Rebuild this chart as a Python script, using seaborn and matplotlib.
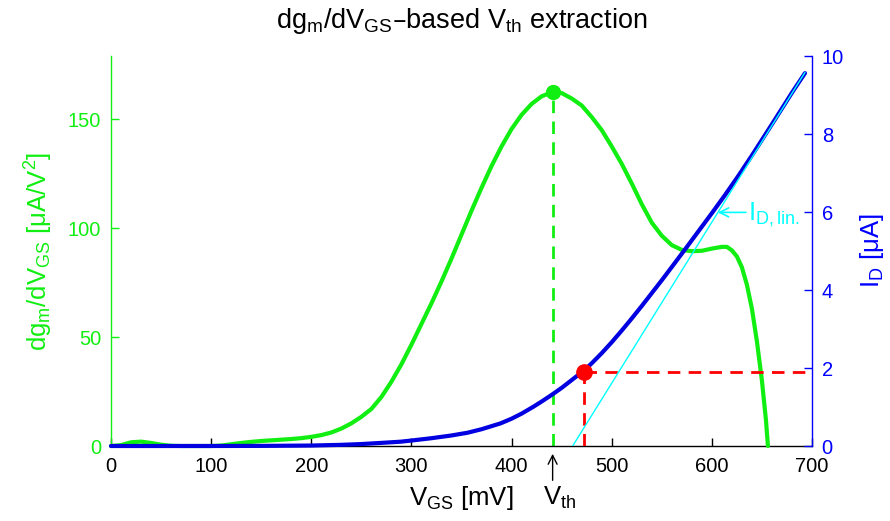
import matplotlib
matplotlib.use('Agg')
import matplotlib.pyplot as plt
import pandas as pd
import seaborn as sns

# dgm/dVGS curve (left axis)
vgs_dg = [0, 10, 20, 30, 40, 50, 60, 70, 100, 110, 120, 130, 140, 150, 160, 170, 180,
          190, 200, 210, 220, 230, 240, 250, 260, 270, 280, 290, 300, 310, 320, 330,
          340, 350, 360, 370, 380, 390, 400, 410, 420, 430, 440, 450, 460, 470, 480,
          490, 500, 510, 520, 530, 540, 550, 560, 570, 580, 590, 600, 610, 615, 620,
          625, 630, 635, 640, 645, 650, 654, 656]
dgm_dvgs = [0, 0.4, 1.7, 2.0, 1.4, 0.6, 0.1, 0, 0, 0.2, 0.8, 1.4, 1.9, 2.3, 2.6, 2.9, 3.2,
            3.6, 4.2, 5.0, 6.2, 8.0, 10.4, 13.4, 17, 22.5, 29.5, 37.5, 46.5, 56, 65.5, 75.5,
            86, 97, 108, 118.5, 128.5, 137.5, 145.5, 152, 157, 160.5, 162.3, 162.0, 159.5,
            156.3, 151, 145, 137.5, 129.5, 120.5, 111, 102.5, 96.5, 92.2, 90, 89.4, 89.6,
            90.6, 91.4, 91.4, 89.8, 87, 82, 74, 63, 48, 30, 12, 0]

# drain current (right axis)
vgs_id = [0, 100, 150, 200, 230, 250, 270, 289, 300, 320, 340, 356, 370, 389, 400, 410,
          422, 430, 440, 450, 460, 472, 480, 490, 500, 510, 520, 530, 540, 550, 560, 572,
          585, 600, 613, 626, 640, 660, 680, 693]
id_ua = [0, 0, 0.003, 0.012, 0.03, 0.05, 0.08, 0.11, 0.14, 0.2, 0.27, 0.34, 0.43, 0.58,
         0.7, 0.83, 1.01, 1.14, 1.31, 1.49, 1.69, 1.93, 2.12, 2.38, 2.66, 2.96, 3.27, 3.59,
         3.92, 4.25, 4.59, 5.0, 5.45, 5.97, 6.43, 6.91, 7.45, 8.25, 9.06, 9.56]

# linear extrapolation of ID
vgs_lin = [461, 693]
id_lin = [0, 9.58]

# extracted points
vth_peak = 441
dg_peak = 162.5
vgs_mark = 472
id_mark = 1.91

green = '#11ee11'
blue = '#0000e0'

sns.set_style('white')
plt.rcParams['font.family'] = ['Liberation Sans', 'DejaVu Sans']
plt.rcParams['mathtext.default'] = 'regular'
plt.rcParams['text.color'] = 'black'
plt.rcParams['axes.labelcolor'] = 'black'
plt.rcParams['xtick.color'] = 'black'

fig = plt.figure(figsize=(8.9, 5.21), dpi=100)
ax = fig.add_axes([111 / 890, 75 / 521, 701 / 890, 390 / 521])
ax2 = ax.twinx()

df_dg = pd.DataFrame({'vgs': vgs_dg, 'dg': dgm_dvgs})
df_id = pd.DataFrame({'vgs': vgs_id, 'id': id_ua})

sns.lineplot(data=df_dg, x='vgs', y='dg', ax=ax, color=green, lw=3, sort=False,
             estimator=None, clip_on=False, zorder=3, solid_joinstyle='round')
ax.plot([vth_peak, vth_peak], [0, dg_peak], color=green, lw=2, dashes=(4.5, 3))
ax.plot([vth_peak], [dg_peak], 'o', color=green, ms=10)

sns.lineplot(data=df_id, x='vgs', y='id', ax=ax2, color=blue, lw=3, sort=False,
             estimator=None, clip_on=False, zorder=3, solid_joinstyle='round')
ax2.plot(vgs_lin, id_lin, color='cyan', lw=1, zorder=4)
ax2.plot([vgs_mark, vgs_mark], [0, id_mark], color='red', lw=2, dashes=(4.5, 3))
ax2.plot([vgs_mark, 700], [id_mark, id_mark], color='red', lw=2, dashes=(4.5, 3))
ax2.plot([vgs_mark], [id_mark], 'o', color='red', ms=11, zorder=5)

ax.set_xlim(0, 700)
ax.set_ylim(0, 179)
ax2.set_ylim(0, 10)
ax.set_xticks(range(0, 701, 100))
ax.set_yticks([0, 50, 100, 150])
ax2.set_yticks(range(0, 11, 2))

for s in ['top', 'right']:
    ax.spines[s].set_visible(False)
for s in ['top', 'left', 'bottom']:
    ax2.spines[s].set_visible(False)
ax.spines['left'].set_color(green)
ax.spines['bottom'].set_color('black')
ax2.spines['right'].set_color('blue')
for s in [ax.spines['left'], ax.spines['bottom'], ax2.spines['right']]:
    s.set_linewidth(1)

ax.tick_params(axis='x', direction='in', colors='black', length=6, width=1,
               labelsize=14.5, pad=8, bottom=True)
ax.tick_params(axis='y', direction='in', colors=green, length=6, width=1,
               labelsize=14.5, pad=7, left=True)
ax2.tick_params(axis='y', direction='in', colors='blue', length=6, width=1,
                labelsize=14.5, pad=7, right=True)

ax.set_xlabel('V$_{GS}$ [mV]', fontsize=18.5, labelpad=6)
ax.set_ylabel('dg$_m$/dV$_{GS}$ [μA/V$^2$]', fontsize=18.5, color=green, labelpad=9)
ax2.set_ylabel('I$_D$ [μA]', fontsize=18.5, color='blue', labelpad=10)
ax.set_title('dg$_m$/dV$_{GS}$–based V$_{th}$ extraction', fontsize=19.5, pad=20)

xtr = ax.get_xaxis_transform()
ax.annotate('', xy=(vth_peak, -0.02), xytext=(vth_peak, -0.088), xycoords=xtr,
            textcoords=xtr, annotation_clip=False,
            arrowprops=dict(arrowstyle='->', color='black', lw=1, shrinkA=0, shrinkB=0,
                            mutation_scale=16))
ax.text(431, -0.151, 'V$_{th}$', transform=xtr, fontsize=18.5, ha='left', va='baseline')

# pointer to the linear ID fit
ax2.annotate('', xy=(606, 5.99), xytext=(634, 5.99),
             arrowprops=dict(arrowstyle='->', color='cyan', lw=1.2, shrinkA=0, shrinkB=0,
                             mutation_scale=16))
ax2.text(636, 5.78, 'I$_{D,lin.}$', color='cyan', fontsize=18.5, ha='left', va='baseline')

fig.savefig('out.png', dpi=100)
